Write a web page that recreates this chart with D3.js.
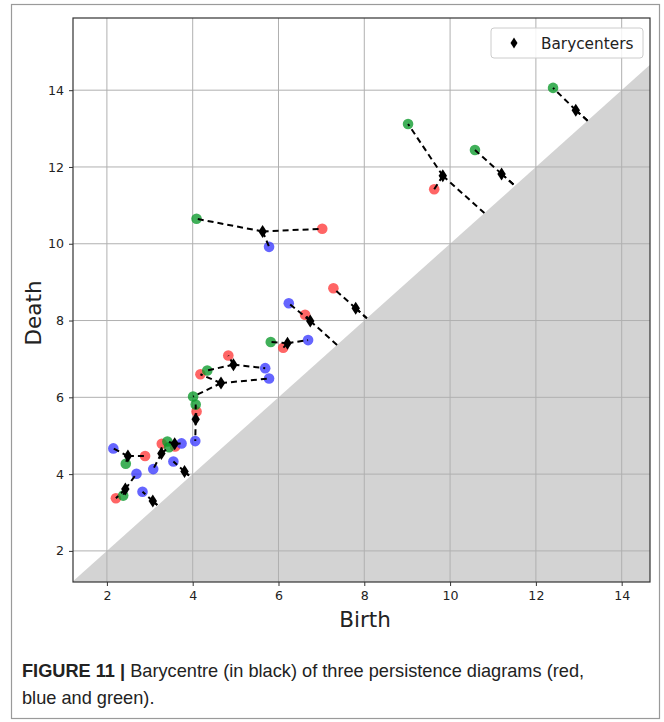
<!DOCTYPE html>
<html lang="en">
<head>
    <meta charset="UTF-8">
    <title>Barycentre of three persistence diagrams</title>
    <script src="https://d3js.org/d3.v7.min.js"></script>
    <style>
        body { margin: 0; padding: 0; background: #fff; }
        svg { display: block; }
    </style>
</head>
<body>
<script>
    // Persistence diagrams (birth, death)
    const redPts = [[9.63, 11.42], [7.02, 10.39], [7.28, 8.84], [6.62, 8.15], [6.11, 7.29], [4.83, 7.09],
                    [4.18, 6.60], [4.09, 5.63], [3.59, 4.72], [3.28, 4.79], [2.89, 4.47], [2.21, 3.37]];
    const bluePts = [[5.78, 9.92], [6.24, 8.45], [6.69, 7.49], [5.69, 6.76], [5.78, 6.49], [4.06, 4.86],
                     [3.74, 4.80], [3.08, 4.13], [2.15, 4.67], [2.69, 4.01], [2.83, 3.54], [3.55, 4.33]];
    const greenPts = [[12.40, 14.06], [9.02, 13.12], [10.58, 12.44], [4.09, 10.65], [5.82, 7.44], [4.34, 6.70],
                      [4.01, 6.02], [4.07, 5.81], [3.41, 4.85], [3.45, 4.70], [2.44, 4.27], [2.38, 3.44]];

    // Barycenter points
    const baryPts = [[12.93, 13.48], [9.83, 11.77], [11.20, 11.82], [5.63, 10.32], [7.80, 8.32], [6.74, 7.99],
                     [6.21, 7.41], [4.95, 6.85], [4.66, 6.37], [4.07, 5.43], [3.58, 4.79], [3.27, 4.54],
                     [2.49, 4.47], [2.43, 3.61], [3.07, 3.30], [3.81, 4.07]];

    // matching: index into each diagram, -1 = matched to the diagonal
    const matchRed   = [-1, 0, -1, 1, 2, 3, 4, 5, 6, 7, 8, 9, 10, 11, -1, -1];
    const matchBlue  = [-1, -1, -1, 0, -1, 1, 2, 3, 4, 5, 6, 7, 8, 9, 10, 11];
    const matchGreen = [0, 1, 2, 3, -1, -1, 4, 5, 6, 7, 8, 9, 10, 11, -1, -1];

    const ticks = [2, 4, 6, 8, 10, 12, 14];
    const xDomain = [1.21, 14.66];
    const yDomain = [1.19, 15.88];

    const W = 664, H = 722;
    const plot = { left: 73, right: 650, top: 18, bottom: 582 };

    const svg = d3.select("body").append("svg")
        .attr("width", W)
        .attr("height", H);

    // figure frame
    svg.append("rect")
        .attr("x", 11.5).attr("y", 4.5)
        .attr("width", 648).attr("height", 714)
        .attr("fill", "none")
        .attr("stroke", "#9a9a9a")
        .attr("stroke-width", 1.2);

    const x = d3.scaleLinear().domain(xDomain).range([plot.left, plot.right]);
    const y = d3.scaleLinear().domain(yDomain).range([plot.bottom, plot.top]);

    svg.append("clipPath").attr("id", "clip")
        .append("rect")
        .attr("x", plot.left).attr("y", plot.top)
        .attr("width", plot.right - plot.left)
        .attr("height", plot.bottom - plot.top);

    const g = svg.append("g").attr("clip-path", "url(#clip)");

    // region below the diagonal
    const lo = Math.min(xDomain[0], yDomain[0]) - 1, hi = Math.max(xDomain[1], yDomain[1]) + 1;
    g.append("path")
        .attr("d", d3.line()([[x(lo), y(lo)], [x(hi), y(hi)], [x(hi), y(lo)]]))
        .attr("fill", "#d3d3d3");

    // grid
    g.selectAll(".gx").data(ticks).enter().append("line")
        .attr("x1", d => x(d)).attr("x2", d => x(d))
        .attr("y1", plot.top).attr("y2", plot.bottom)
        .attr("stroke", "#b0b0b0").attr("stroke-width", 1);
    g.selectAll(".gy").data(ticks).enter().append("line")
        .attr("y1", d => y(d)).attr("y2", d => y(d))
        .attr("x1", plot.left).attr("x2", plot.right)
        .attr("stroke", "#b0b0b0").attr("stroke-width", 1);

    // diagram points
    const diagrams = [
        { pts: redPts, color: "#ff3a3a" },
        { pts: bluePts, color: "#3a3aff" },
        { pts: greenPts, color: "#0a9a2a" }
    ];
    diagrams.forEach(dg => {
        g.selectAll(null).data(dg.pts).enter().append("circle")
            .attr("cx", d => x(d[0]))
            .attr("cy", d => y(d[1]))
            .attr("r", 5.3)
            .attr("fill", dg.color)
            .attr("fill-opacity", 0.78);
    });

    // matching lines barycenter -> point (or its diagonal projection)
    const segs = [];
    baryPts.forEach((b, i) => {
        [[matchRed, redPts], [matchBlue, bluePts], [matchGreen, greenPts]].forEach(([m, pts]) => {
            let target;
            if (m[i] >= 0) target = pts[m[i]];
            else { const p = (b[0] + b[1]) / 2; target = [p, p]; }
            segs.push([b, target]);
        });
    });
    g.selectAll(".seg").data(segs).enter().append("line")
        .attr("x1", d => x(d[0][0])).attr("y1", d => y(d[0][1]))
        .attr("x2", d => x(d[1][0])).attr("y2", d => y(d[1][1]))
        .attr("stroke", "#000")
        .attr("stroke-width", 2)
        .attr("stroke-dasharray", "6,4");

    // barycenters (thin diamonds)
    const diamond = "M0,-6.5L4.2,0L0,6.5L-4.2,0Z";
    g.selectAll(".bary").data(baryPts).enter().append("path")
        .attr("d", diamond)
        .attr("transform", d => `translate(${x(d[0])},${y(d[1])})`)
        .attr("fill", "#000");

    // axes
    const xAxis = svg.append("g")
        .attr("transform", `translate(0,${plot.bottom})`)
        .call(d3.axisBottom(x).tickValues(ticks).tickSize(4).tickPadding(5));
    const yAxis = svg.append("g")
        .attr("transform", `translate(${plot.left},0)`)
        .call(d3.axisLeft(y).tickValues(ticks).tickSize(4).tickPadding(5));
    [xAxis, yAxis].forEach(a => {
        a.select(".domain").remove();
        a.selectAll("text")
            .attr("font-family", "DejaVu Sans")
            .attr("font-size", 12.6)
            .attr("fill", "#222");
        a.selectAll("line").attr("stroke", "#333");
    });

    svg.append("rect")
        .attr("x", plot.left).attr("y", plot.top)
        .attr("width", plot.right - plot.left)
        .attr("height", plot.bottom - plot.top)
        .attr("fill", "none")
        .attr("stroke", "#333")
        .attr("stroke-width", 1.2);

    svg.append("text")
        .attr("x", 365)
        .attr("y", 627)
        .attr("text-anchor", "middle")
        .attr("font-family", "DejaVu Sans")
        .attr("font-size", 21.5)
        .attr("fill", "#222")
        .text("Birth");
    svg.append("text")
        .attr("transform", `translate(41,313) rotate(-90)`)
        .attr("text-anchor", "middle")
        .attr("font-family", "DejaVu Sans")
        .attr("font-size", 21.5)
        .attr("fill", "#222")
        .text("Death");

    // legend
    const lg = svg.append("g").attr("transform", "translate(491,28)");
    lg.append("rect")
        .attr("width", 152).attr("height", 30)
        .attr("rx", 3)
        .attr("fill", "#fff").attr("fill-opacity", 0.85)
        .attr("stroke", "#cccccc");
    lg.append("path")
        .attr("d", "M0,-5.5L3.5,0L0,5.5L-3.5,0Z")
        .attr("transform", "translate(23,15)")
        .attr("fill", "#000");
    lg.append("text")
        .attr("x", 50).attr("y", 20.5)
        .attr("font-family", "DejaVu Sans")
        .attr("font-size", 15.3)
        .attr("fill", "#222")
        .text("Barycenters");

    // caption
    const cap = svg.append("text")
        .attr("x", 22).attr("y", 677)
        .attr("font-family", "Liberation Sans, Arial, sans-serif")
        .attr("font-size", 18.2)
        .attr("fill", "#222");
    cap.append("tspan").attr("font-weight", "bold").text("FIGURE 11 | ");
    cap.append("tspan").text("Barycentre (in black) of three persistence diagrams (red,");
    svg.append("text")
        .attr("x", 22).attr("y", 704)
        .attr("font-family", "Liberation Sans, Arial, sans-serif")
        .attr("font-size", 18.2)
        .attr("fill", "#222")
        .text("blue and green).");
</script>
</body>
</html>
